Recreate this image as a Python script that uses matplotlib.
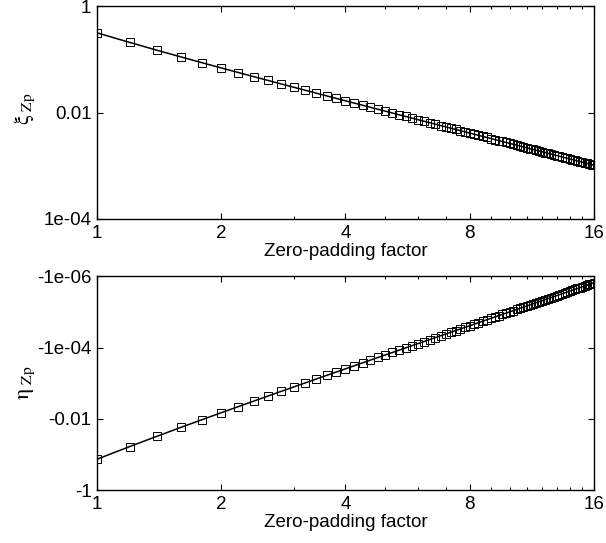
import matplotlib
matplotlib.use("Agg")
import matplotlib.pyplot as plt
from matplotlib.ticker import FixedLocator, FixedFormatter, NullLocator, NullFormatter

# Zero-padding factors
zp_factor = [1.0, 1.2, 1.4, 1.6, 1.8, 2.0, 2.2, 2.4, 2.6, 2.8, 3.0, 3.2, 3.4, 3.6, 3.8,
             4.0, 4.2, 4.4, 4.6, 4.8, 5.0, 5.2, 5.4, 5.6, 5.8, 6.0, 6.2, 6.4, 6.6, 6.8,
             7.0, 7.2, 7.4, 7.6, 7.8, 8.0, 8.2, 8.4, 8.6, 8.8, 9.0, 9.2, 9.4, 9.6, 9.8,
             10.0, 10.2, 10.4, 10.6, 10.8, 11.0, 11.2, 11.4, 11.6, 11.8, 12.0, 12.2, 12.4,
             12.6, 12.8, 13.0, 13.2, 13.4, 13.6, 13.8, 14.0, 14.2, 14.4, 14.6, 14.8, 15.0,
             15.2, 15.4, 15.6, 15.8, 16.0]

# xi_Zp
xi_zp = [0.3156, 0.208, 0.1479, 0.1108, 0.08618, 0.06904, 0.05658, 0.04725, 0.04006,
         0.0344, 0.02987, 0.02619, 0.02314, 0.02061, 0.01847, 0.01664, 0.01508, 0.01373,
         0.01255, 0.01151, 0.0106, 0.009798, 0.009081, 0.00844, 0.007865, 0.007346,
         0.006877, 0.006452, 0.006065, 0.005712, 0.005389, 0.005093, 0.00482, 0.004569,
         0.004337, 0.004122, 0.003923, 0.003738, 0.003566, 0.003405, 0.003255, 0.003115,
         0.002983, 0.00286, 0.002744, 0.002635, 0.002533, 0.002436, 0.002345, 0.002259,
         0.002177, 0.0021, 0.002027, 0.001957, 0.001892, 0.001829, 0.001769, 0.001713,
         0.001659, 0.001607, 0.001558, 0.001511, 0.001466, 0.001423, 0.001382, 0.001343,
         0.001306, 0.00127, 0.001235, 0.001202, 0.00117, 0.001139, 0.00111, 0.001082,
         0.001054, 0.001028]

# eta_Zp (negative values)
eta_zp = [-0.1366, -0.06023, -0.03067, -0.01728, -0.01049, -0.006742, -0.004534,
          -0.003163, -0.002275, -0.001679, -0.001266, -0.0009731, -0.0007604, -0.0006028,
          -0.0004842, -0.0003933, -0.0003229, -0.0002675, -0.0002236, -0.0001883,
          -0.0001597, -0.0001364, -0.0001172, -0.0001012, -8.787e-05, -7.667e-05,
          -6.72e-05, -5.915e-05, -5.227e-05, -4.636e-05, -4.127e-05, -3.685e-05,
          -3.301e-05, -2.966e-05, -2.673e-05, -2.415e-05, -2.187e-05, -1.985e-05,
          -1.807e-05, -1.647e-05, -1.505e-05, -1.378e-05, -1.265e-05, -1.162e-05,
          -1.07e-05, -9.868e-06, -9.115e-06, -8.433e-06, -7.813e-06, -7.249e-06,
          -6.736e-06, -6.267e-06, -5.838e-06, -5.445e-06, -5.084e-06, -4.753e-06,
          -4.449e-06, -4.168e-06, -3.91e-06, -3.671e-06, -3.45e-06, -3.245e-06,
          -3.055e-06, -2.879e-06, -2.716e-06, -2.564e-06, -2.422e-06, -2.29e-06,
          -2.167e-06, -2.052e-06, -1.945e-06, -1.845e-06, -1.751e-06, -1.662e-06,
          -1.58e-06, -1.502e-06]

x_ticks = [1, 2, 4, 8, 16]
x_ticklabels = ['1', '2', '4', '8', '16']
x_minor = [3, 5, 6, 7, 9, 10, 11, 12, 13, 14, 15]
xi_ticks = [1e-4, 1e-2, 1]
xi_ticklabels = ['1e-04', '0.01', '1']
eta_ticks = [1, 1e-2, 1e-4, 1e-6]
eta_ticklabels = ['-1', '-0.01', '-1e-04', '-1e-06']

plt.rcParams['font.family'] = ['Liberation Sans', 'DejaVu Sans']
plt.rcParams['mathtext.fontset'] = 'stix'
fs = 13.5

fig = plt.figure(figsize=(6.06, 5.43), dpi=100)
ax1 = fig.add_axes([0.160, 0.5967, 0.820, 0.392])
ax2 = fig.add_axes([0.160, 0.0976, 0.820, 0.3932])


def style(ax):
    ax.set_xscale('log', base=2)
    ax.set_xlim(1, 16)
    ax.xaxis.set_major_locator(FixedLocator(x_ticks))
    ax.xaxis.set_major_formatter(FixedFormatter(x_ticklabels))
    ax.xaxis.set_minor_locator(FixedLocator(x_minor))
    ax.xaxis.set_minor_formatter(NullFormatter())
    ax.yaxis.set_minor_locator(NullLocator())
    ax.tick_params(which='both', direction='in', top=True, right=True,
                   labelsize=fs, width=0.8)
    ax.tick_params(which='major', length=4, pad=4)
    ax.tick_params(which='minor', length=2.5)
    for s in ax.spines.values():
        s.set_linewidth(1.0)
    ax.set_xlabel('Zero-padding factor', fontsize=fs, labelpad=1)


line_kw = dict(color='k', lw=1.1, marker='s', ms=5.5, mfc='none', mec='k', mew=0.7)

# Upper panel: xi_Zp
ax1.plot(zp_factor, xi_zp, **line_kw)
style(ax1)
ax1.set_yscale('log')
ax1.set_ylim(1e-4, 1)
ax1.yaxis.set_major_locator(FixedLocator(xi_ticks))
ax1.yaxis.set_major_formatter(FixedFormatter(xi_ticklabels))
ax1.yaxis.set_minor_locator(NullLocator())
ax1.set_ylabel(r'$\mathrm{\xi}_{\ \mathrm{Zp}}$', fontsize=16)
ax1.yaxis.set_label_coords(-0.121, 0.52)

# Lower panel: eta_Zp on a reversed log scale of its magnitude
ax2.plot(zp_factor, [-v for v in eta_zp], **line_kw)
style(ax2)
ax2.set_yscale('log')
ax2.set_ylim(1, 1e-6)
ax2.yaxis.set_major_locator(FixedLocator(eta_ticks))
ax2.yaxis.set_major_formatter(FixedFormatter(eta_ticklabels))
ax2.yaxis.set_minor_locator(NullLocator())
ax2.set_ylabel(r'$\mathrm{\eta}_{\ \mathrm{Zp}}$', fontsize=16)
ax2.yaxis.set_label_coords(-0.121, 0.5)

fig.savefig('out.png')
